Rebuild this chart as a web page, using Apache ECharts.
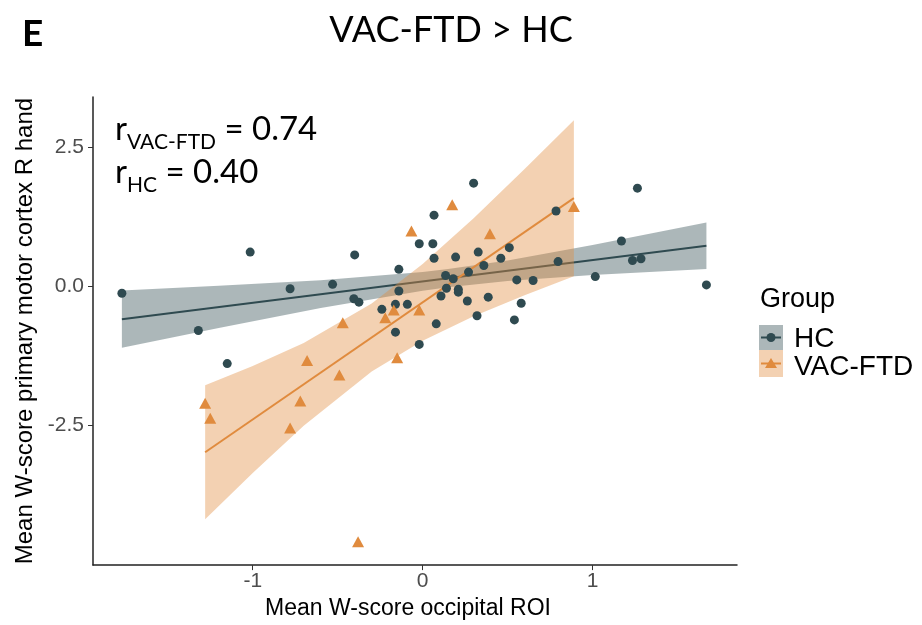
<!DOCTYPE html>
<html>
<head>
<meta charset="utf-8">
<script src="https://cdn.jsdelivr.net/npm/echarts@6/dist/echarts.min.js"></script>
<style>
  html, body { margin: 0; padding: 0; background: #fff; }
  #chart { width: 922px; height: 625px; }
</style>
</head>
<body>
<div id="chart"></div>
<script>
  // HC group (circles)
  const hcX = [-1.77, -1.32, -1.15, -1.015, -0.78, -0.53, -0.40, -0.405, -0.375, -0.24,
    -0.16, -0.16, -0.14, -0.14, -0.09, -0.02, -0.02, 0.06, 0.067, 0.067,
    0.08, 0.108, 0.135, 0.14, 0.18, 0.194, 0.21, 0.21, 0.263, 0.27,
    0.30, 0.32, 0.327, 0.36, 0.386, 0.46, 0.51, 0.54, 0.554, 0.58,
    0.65, 0.785, 0.797, 1.016, 1.17, 1.235, 1.264, 1.285, 1.67];
  const hcY = [-0.12, -0.79, -1.385, 0.62, -0.04, 0.04, 0.57, -0.22, -0.28, -0.41,
    -0.32, -0.82, 0.31, -0.08, -0.32, 0.77, -1.04, 0.77, 1.285, 0.51,
    -0.67, -0.17, 0.20, -0.03, 0.14, 0.53, -0.05, -0.10, -0.26, 0.26,
    1.86, -0.525, 0.62, 0.38, -0.19, 0.51, 0.70, -0.60, 0.12, -0.30,
    0.11, 1.36, 0.45, 0.18, 0.82, 0.47, 1.77, 0.50, 0.03];

  // VAC-FTD group (triangles)
  const vacX = [-1.28, -1.25, -0.78, -0.72, -0.68, -0.49, -0.47, -0.38, -0.22, -0.17,
    -0.15, -0.066, -0.02, 0.174, 0.396, 0.89];
  const vacY = [-2.10, -2.37, -2.545, -2.06, -1.33, -1.59, -0.65, -4.59, -0.56, -0.42,
    -1.28, 1.00, -0.42, 1.47, 0.95, 1.44];

  // fitted lines and confidence bands
  const hcFitX = [-1.77, 1.67];
  const hcFitY = [-0.586, 0.735];
  const hcBandX = [-1.77, -1.2, -0.6, 0, 0.15, 0.5, 1.0, 1.67];
  const hcBandLo = [-1.101, -0.747, -0.387, -0.073, -0.011, 0.101, 0.208, 0.316];
  const hcBandHi = [-0.071, 0.013, 0.115, 0.261, 0.315, 0.471, 0.748, 1.154];

  const vacFitX = [-1.28, 0.89];
  const vacFitY = [-2.98, 1.59];
  const vacBandX = [-1.28, -1.0, -0.7, -0.3, 0, 0.3, 0.6, 0.89];
  const vacBandLo = [-4.187, -3.352, -2.502, -1.526, -0.973, -0.535, -0.154, 0.186];
  const vacBandHi = [-1.773, -1.428, -1.014, -0.306, 0.405, 1.231, 2.114, 2.994];

  const xTicks = [-1, 0, 1];
  const yTicks = [-2.5, 0, 2.5];

  const hcColor = '#2F4A50';
  const vacColor = '#E08B3E';
  const axisFont = 'Liberation Sans, Arial, sans-serif';
  const calFont = 'Lato, Open Sans, sans-serif';

  function band(xs, lo, hi, color, z) {
    return {
      type: 'custom',
      z: z,
      silent: true,
      data: xs.map((x, i) => [x, lo[i], hi[i]]),
      encode: { x: 0, y: [1, 2] },
      renderItem: function (params, api) {
        if (params.dataIndex !== 0) return null;
        const pts = [];
        xs.forEach((x, i) => pts.push(api.coord([x, hi[i]])));
        for (let i = xs.length - 1; i >= 0; i--) pts.push(api.coord([xs[i], lo[i]]));
        return {
          type: 'polygon',
          shape: { points: pts },
          style: { fill: color, opacity: 0.4 }
        };
      }
    };
  }

  function fit(xs, ys, color, z) {
    return {
      type: 'line',
      z: z,
      silent: true,
      symbol: 'none',
      data: xs.map((x, i) => [x, ys[i]]),
      lineStyle: { color: color, width: 2 }
    };
  }

  // r annotation line: main letter, subscript, value
  function rLabel(sub, val, y) {
    return {
      type: 'text', x: 115, y: y,
      style: {
        text: '{r|r}{s|' + sub + '}{n| = ' + val + '}',
        verticalAlign: 'bottom',
        fill: '#000',
        rich: {
          r: { fontSize: 33, fontFamily: calFont, lineHeight: 33, padding: [0, 0, 7, 0], verticalAlign: 'bottom' },
          s: { fontSize: 21, fontFamily: calFont, lineHeight: 21, verticalAlign: 'bottom' },
          n: { fontSize: 33, fontFamily: calFont, lineHeight: 33, padding: [0, 0, 7, 0], verticalAlign: 'bottom' }
        }
      }
    };
  }

  const chart = echarts.init(document.getElementById('chart'));

  const option = {
    animation: false,
    grid: { left: 93, right: 185, top: 97, bottom: 58, containLabel: false },
    xAxis: {
      type: 'value',
      min: -1.94,
      max: 1.85,
      name: 'Mean W-score occipital ROI',
      nameLocation: 'middle',
      nameGap: 29,
      nameTextStyle: { color: '#000', fontSize: 23, fontFamily: axisFont, padding: [0, 14, 0, 0] },
      axisLine: { show: true, onZero: false, lineStyle: { color: '#222', width: 1.5 } },
      axisTick: { show: true, length: 5, customValues: xTicks, lineStyle: { color: '#333' } },
      axisLabel: {
        customValues: xTicks,
        color: '#4D4D4D', fontSize: 21, fontFamily: axisFont, margin: 6,
        formatter: v => String(v)
      },
      splitLine: { show: false }
    },
    yAxis: {
      type: 'value',
      min: -5.01,
      max: 3.41,
      name: 'Mean W-score primary motor cortex R hand',
      nameLocation: 'middle',
      nameGap: 48,
      nameTextStyle: { color: '#000', fontSize: 24, fontFamily: axisFont },
      axisLine: { show: true, onZero: false, lineStyle: { color: '#222', width: 1.5 } },
      axisTick: { show: true, length: 5, customValues: yTicks, lineStyle: { color: '#333' } },
      axisLabel: {
        customValues: yTicks,
        color: '#4D4D4D', fontSize: 21, fontFamily: axisFont, margin: 9,
        formatter: v => v.toFixed(1)
      },
      splitLine: { show: false }
    },
    series: [
      band(hcBandX, hcBandLo, hcBandHi, hcColor, 1),
      fit(hcFitX, hcFitY, hcColor, 2),
      band(vacBandX, vacBandLo, vacBandHi, vacColor, 3),
      fit(vacFitX, vacFitY, vacColor, 4),
      {
        type: 'scatter',
        z: 5,
        symbol: 'circle',
        symbolSize: 9,
        itemStyle: { color: hcColor, opacity: 1 },
        data: hcX.map((x, i) => [x, hcY[i]])
      },
      {
        type: 'scatter',
        z: 5,
        symbol: 'triangle',
        symbolSize: [12, 11],
        itemStyle: { color: vacColor, opacity: 1 },
        data: vacX.map((x, i) => [x, vacY[i]])
      }
    ],
    graphic: [
      { type: 'text', left: 22, top: 16,
        style: { text: 'E', fontSize: 37, fontWeight: 'bold', fontFamily: calFont, fill: '#000' } },
      { type: 'text', x: 451, y: 30,
        style: { text: 'VAC-FTD > HC', fontSize: 36, fontFamily: calFont, fill: '#000',
          align: 'center', verticalAlign: 'middle' } },
      rLabel('VAC-FTD', '0.74', 153),
      rLabel('HC', '0.40', 196),
      // legend
      { type: 'text', x: 760, y: 300,
        style: { text: 'Group', fontSize: 27, fontFamily: axisFont, fill: '#000', verticalAlign: 'middle' } },
      { type: 'rect', shape: { x: 759, y: 325, width: 24, height: 25 },
        style: { fill: hcColor, opacity: 0.4 } },
      { type: 'line', shape: { x1: 761, y1: 337.5, x2: 781, y2: 337.5 },
        style: { stroke: hcColor, lineWidth: 2 } },
      { type: 'circle', shape: { cx: 771, cy: 337.5, r: 4.5 }, style: { fill: hcColor } },
      { type: 'rect', shape: { x: 759, y: 350, width: 24, height: 27 },
        style: { fill: vacColor, opacity: 0.4 } },
      { type: 'line', shape: { x1: 761, y1: 363.5, x2: 781, y2: 363.5 },
        style: { stroke: vacColor, lineWidth: 2 } },
      { type: 'polygon', shape: { points: [[771, 358], [777, 368], [765, 368]] }, style: { fill: vacColor } },
      { type: 'text', x: 794, y: 339,
        style: { text: 'HC', fontSize: 28, fontFamily: axisFont, fill: '#000', verticalAlign: 'middle' } },
      { type: 'text', x: 794, y: 367,
        style: { text: 'VAC-FTD', fontSize: 28, fontFamily: axisFont, fill: '#000', verticalAlign: 'middle' } }
    ]
  };

  chart.setOption(option);
</script>
</body>
</html>
